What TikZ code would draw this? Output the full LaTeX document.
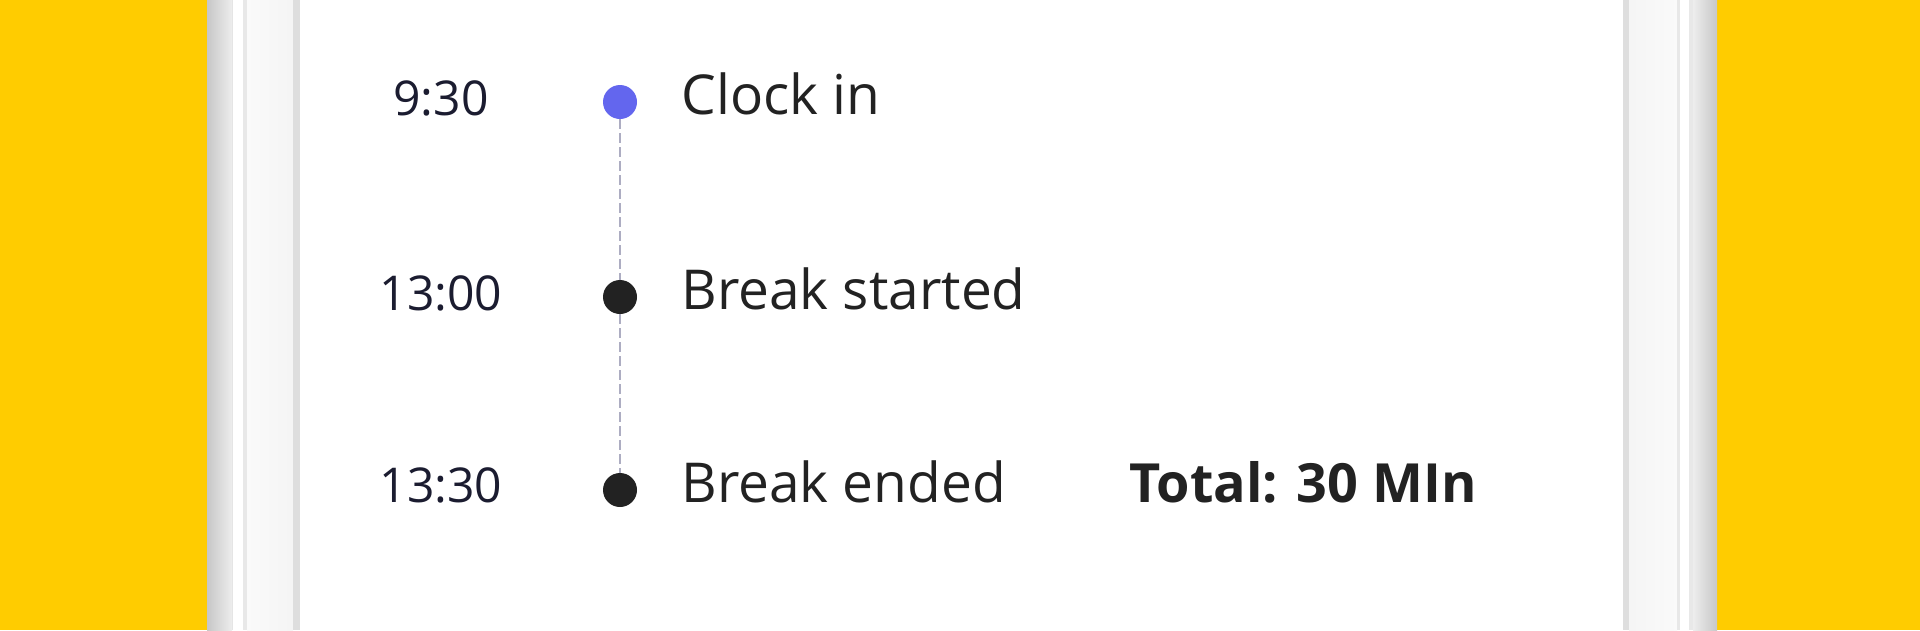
\documentclass[tikz,border=0pt]{standalone}
\usepackage{fontspec}
\setmainfont{Open Sans}
\usetikzlibrary{positioning}
\definecolor{appyellow}{HTML}{FFCC00}
\definecolor{appblue}{HTML}{6366EE}
\definecolor{appdark}{HTML}{222222}
\definecolor{appnavy}{HTML}{1B1C30}
\definecolor{appdash}{HTML}{ADADC2}
\tikzset{
  tdot/.style = {circle, inner sep=0pt, minimum size=34pt, fill=appdark},
  tfirst/.style = {tdot, fill=appblue},
  ttime/.style = {inner sep=0pt, anchor=base, text=appnavy, font=\fontsize{48}{52}\selectfont},
  tlabel/.style = {inner sep=0pt, text height=40pt, text depth=0pt, text=appdark, font=\fontsize{55}{60}\selectfont},
  ttotal/.style = {tlabel, font=\fontsize{54}{60}\selectfont\bfseries},
  tline/.style = {draw=appdash, line width=2.6pt, dash pattern=on 10pt off 4pt},
}

\begin{document}
\begin{tikzpicture}[x=1pt, y=-1pt]
\fill[white] (0,0) rectangle (1920,630);
\fill[appyellow] (0,0) rectangle (207,630);
\fill[appyellow] (1717,0) rectangle (1920,630);
\shade[left color=black!22, right color=black!7] (207,0) rectangle (232,630);
\fill[black!10] (232,0) rectangle (233,630);
\fill[black!9] (243,0) rectangle (247,630);
\shade[left color=black!2, right color=black!4] (247,0) rectangle (293,630);
\fill[black!13] (293,0) rectangle (300,630);
\fill[black!13] (1623,0) rectangle (1629,630);
\shade[left color=black!4, right color=black!2] (1629,0) rectangle (1677,630);
\fill[black!9] (1677,0) rectangle (1680,630);
\fill[black!9] (1689,0) rectangle (1693,630);
\shade[left color=black!7, right color=black!22] (1693,0) rectangle (1717,630);

\node [tfirst] (c1) at (620,102) {};
\node [tdot] (c2) at (620,297) {};
\node [tdot] (c3) at (620,490) {};
\draw [tline] (c1) -- (c2) -- (c3);

\node [ttime] (t1) at (441,115) {9:30};
\node [ttime] (t2) at (441,310) {13:00};
\node [ttime] (t3) at (441,502) {13:30};

\node [tlabel, right=44pt of c1, yshift=8pt] (l1) {Clock in};
\node [tlabel, right=44pt of c2, yshift=8pt] (l2) {Break started};
\node [tlabel, right=44pt of c3, yshift=8pt] (l3) {Break ended};
\node [ttotal, anchor=west, yshift=8pt] (tot) at (1129,490) {Total: 30 MIn};
\end{tikzpicture}
\end{document}
